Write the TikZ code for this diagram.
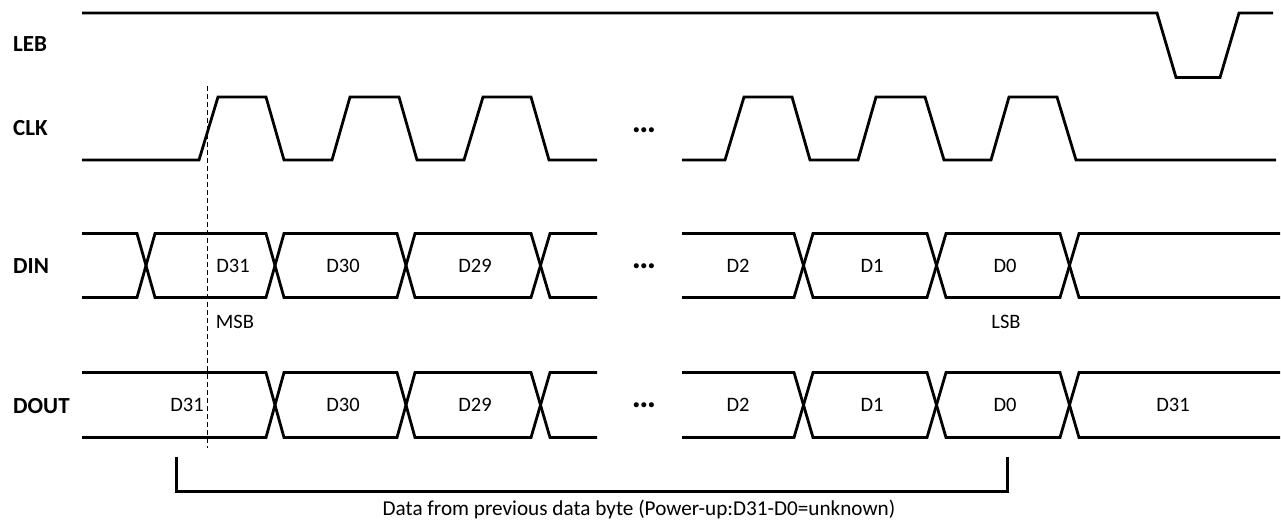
\documentclass[tikz,border=0pt]{standalone}
\usepackage{fontspec}
\setmainfont{Carlito}
\begin{document}
\begin{tikzpicture}[x=1pt,y=-1pt,
  wave/.style={line width=2.8pt,line join=miter},
  sig/.style={font=\fontsize{23}{25}\selectfont\bfseries,anchor=west,inner sep=0pt},
  val/.style={font=\fontsize{20.5}{22}\selectfont,inner sep=0pt},
  dots/.style={font=\fontsize{34}{36}\selectfont\bfseries,inner sep=0pt},
  marker/.style={line width=1.2pt,dash pattern=on 5pt off 3pt},
  brace/.style={line width=2.5pt}]
\useasboundingbox (0,0) rectangle (1281,528);
% labels
\node[sig] (leb) at (13,44) {LEB};
\node[sig] (clk) at (13,128) {CLK};
\node[sig] (din) at (13,266) {DIN};
\node[sig] (dout) at (13,406) {DOUT};
% LEB
\draw[wave] (82,13)--(1157,13)--(1176,77.5)--(1220,77.5)--(1239,13)--(1273,13);
% CLK
\def\lo{160}\def\hi{97}
\draw[wave] (82,\lo)--(199,\lo)--(218,\hi)--(266,\hi)--(284,\lo)--(332,\lo)--(350,\hi)--(399,\hi)--(417,\lo)--(464,\lo)--(483,\hi)--(531,\hi)--(549,\lo)--(597,\lo);
\draw[wave] (682,\lo)--(725,\lo)--(744,\hi)--(792,\hi)--(810,\lo)--(858,\lo)--(876,\hi)--(925,\hi)--(944,\lo)--(991,\lo)--(1009,\hi)--(1057,\hi)--(1076,\lo)--(1276,\lo);
\node[dots] (clkdots) at (644,130) {…};
% DIN
\def\hi{233.5}\def\lo{297.5}
\draw[wave] (82,\hi)--(137,\hi)--(155,\lo)--(266,\lo)--(284,\hi)--(397,\hi)--(415,\lo)--(531,\lo)--(550,\hi)--(597,\hi);
\draw[wave] (82,\lo)--(137,\lo)--(155,\hi)--(266,\hi)--(284,\lo)--(397,\lo)--(415,\hi)--(531,\hi)--(550,\lo)--(597,\lo);
\draw[wave] (682,\hi)--(794,\hi)--(813,\lo)--(927,\lo)--(946,\hi)--(1060,\hi)--(1079,\lo)--(1280,\lo);
\draw[wave] (682,\lo)--(794,\lo)--(813,\hi)--(927,\hi)--(946,\lo)--(1060,\lo)--(1079,\hi)--(1280,\hi);
\node[val] (din31) at (233,266) {D31};
\node[val] (din30) at (343,266) {D30};
\node[val] (din29) at (475,266) {D29};
\node[dots] (dindots) at (644,266) {…};
\node[val] (din2) at (738,266) {D2};
\node[val] (din1) at (872,266) {D1};
\node[val] (din0) at (1005,266) {D0};
\node[val] (msb) at (235,322) {MSB};
\node[val] (lsb) at (1006,322) {LSB};
% DOUT
\def\hi{372.5}\def\lo{437.5}
\draw[wave] (82,\hi)--(266,\hi)--(284,\lo)--(397,\lo)--(415,\hi)--(531,\hi)--(550,\lo)--(597,\lo);
\draw[wave] (82,\lo)--(266,\lo)--(284,\hi)--(397,\hi)--(415,\lo)--(531,\lo)--(550,\hi)--(597,\hi);
\draw[wave] (682,\hi)--(794,\hi)--(813,\lo)--(927,\lo)--(946,\hi)--(1060,\hi)--(1079,\lo)--(1280,\lo);
\draw[wave] (682,\lo)--(794,\lo)--(813,\hi)--(927,\hi)--(946,\lo)--(1060,\lo)--(1079,\hi)--(1280,\hi);
\node[val] (dout31) at (187,405) {D31};
\node[val] (dout30) at (343,405) {D30};
\node[val] (dout29) at (475,405) {D29};
\node[dots] (doutdots) at (644,405) {…};
\node[val] (dout2) at (738,405) {D2};
\node[val] (dout1) at (872,405) {D1};
\node[val] (dout0) at (1005,405) {D0};
\node[val] (dout31b) at (1173,405) {D31};
% marker
\coordinate (mtop) at (207.7,86);
\coordinate (mbot) at (207.7,448);
\draw[marker] (mtop) -- (mbot);
% bracket
\coordinate (bl) at (176.7,456.7);
\coordinate (br) at (1007.3,456.7);
\draw[brace] (bl) -- (176.7,491.3) -- (1007.3,491.3) -- (br);
\node[font=\fontsize{21.2}{23}\selectfont,anchor=base,inner sep=0pt] (note) at (639,515) {Data from previous data byte (Power-up:D31-D0=unknown)};
\end{tikzpicture}
\end{document}
